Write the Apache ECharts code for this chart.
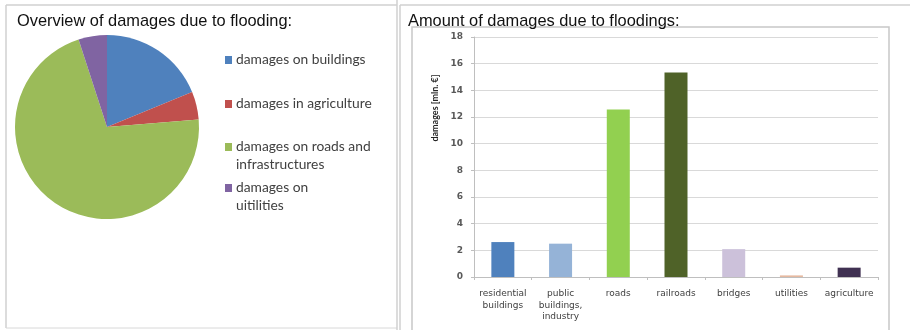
<!DOCTYPE html>
<html><head><meta charset="utf-8">
<script src="https://cdn.jsdelivr.net/npm/echarts@6/dist/echarts.min.js"></script>
<style>html,body{margin:0;padding:0;background:#fff}#c{width:910px;height:330px}</style>
</head><body><div id="c"></div>
<script>
// Pie data (shares, %)
const pieNames = ['damages on buildings', 'damages in agriculture', 'damages on roads and\ninfrastructures', 'damages on\nuitilities'];
const pieValues = [18.8, 4.9, 71.3, 5.0];
const pieColors = ['#4f81bd', '#c0504d', '#9bbb59', '#8064a2'];

// Bar data (mln. €)
const barCategories = ['residential\nbuildings', 'public\nbuildings,\nindustry', 'roads', 'railroads', 'bridges', 'utilities', 'agriculture'];
const barValues = [2.62, 2.5, 12.56, 15.33, 2.09, 0.12, 0.7];
const barColors = ['#4f81bd', '#95b3d7', '#92d050', '#4f6228', '#ccc1da', '#e6b9a0', '#403152'];
const yTicks = [0, 2, 4, 6, 8, 10, 12, 14, 16, 18];

const chart = echarts.init(document.getElementById('c'), null, {renderer: 'canvas'});
const legendTops = [51, 95, 120, 161];
const legends = pieNames.map((n, i) => {
  const multi = n.includes('\n');
  return {
    orient: 'vertical', left: 225, top: legendTops[i], data: [n], padding: 0,
    itemWidth: 7, itemHeight: 8, itemGap: 0, icon: 'rect',
    formatter: name => multi ? ' \n' + name : name,
    textStyle: {fontFamily: 'Lato', fontSize: 13.8, color: '#404040', lineHeight: 18, padding: [0, 0, 0, -1]},
    selectedMode: false
  };
});

chart.setOption({
  animation: false,
  title: [
    {text: 'Overview of damages due to flooding:', left: 12, top: 8, textStyle: {fontFamily: 'Liberation Sans', fontSize: 16.4, fontWeight: 'normal', color: '#111'}},
    {text: 'Amount of damages due to floodings:', left: 403, top: 8, textStyle: {fontFamily: 'Liberation Sans', fontSize: 16.4, fontWeight: 'normal', color: '#111'}}
  ],
  legend: legends,
  graphic: [
    {type: 'line', shape: {x1: 6, y1: 5, x2: 6, y2: 328}, style: {stroke: '#d0d0d0', lineWidth: 1.5}},
    {type: 'line', shape: {x1: 6, y1: 5, x2: 397, y2: 5}, style: {stroke: '#d0d0d0', lineWidth: 1.5}},
    {type: 'line', shape: {x1: 6, y1: 328, x2: 397, y2: 328}, style: {stroke: '#d8d8d8', lineWidth: 1}},
    {type: 'line', shape: {x1: 397, y1: 0, x2: 397, y2: 330}, style: {stroke: '#d0d0d0', lineWidth: 1.5}},
    {type: 'line', shape: {x1: 400, y1: 5, x2: 910, y2: 5}, style: {stroke: '#d0d0d0', lineWidth: 1.5}},
    {type: 'line', shape: {x1: 400, y1: 5, x2: 400, y2: 330}, style: {stroke: '#d0d0d0', lineWidth: 1.5}},
    {type: 'rect', shape: {x: 412, y: 27, width: 477, height: 310}, style: {fill: 'none', stroke: '#c8c8c8', lineWidth: 1.5}}
  ],
  grid: {left: 474, right: 32, top: 37, bottom: 53},
  xAxis: {
    type: 'category', data: barCategories,
    axisLine: {lineStyle: {color: '#bfbfbf'}},
    axisTick: {show: true, length: 3, lineStyle: {color: '#bfbfbf'}},
    axisLabel: {fontFamily: 'DejaVu Sans', fontSize: 9, color: '#404040', margin: 11, lineHeight: 11.5, interval: 0}
  },
  yAxis: {
    type: 'value', min: 0, max: 18, interval: 2,
    name: 'damages [mln. €]', nameLocation: 'middle', nameRotate: 90, nameGap: 34,
    nameTextStyle: {fontFamily: 'Lato', fontSize: 9, fontWeight: 'bold', color: '#262626', padding: [0, 0, 0, 98]},
    axisLine: {show: true, lineStyle: {color: '#bfbfbf'}},
    axisTick: {show: true, length: 3, lineStyle: {color: '#bfbfbf'}},
    splitLine: {lineStyle: {color: '#d9d9d9'}},
    axisLabel: {fontFamily: 'DejaVu Sans', fontSize: 9, fontWeight: 'bold', color: '#595959', margin: 11,
      formatter: v => yTicks.includes(v) ? String(v) : ''}
  },
  series: [
    {
      type: 'pie', center: [107, 127], radius: 92, startAngle: 90, clockwise: true,
      label: {show: false}, labelLine: {show: false}, silent: true,
      data: pieNames.map((n, i) => ({name: n, value: pieValues[i], itemStyle: {color: pieColors[i]}}))
    },
    {
      type: 'bar', barWidth: 23,
      data: barValues.map((v, i) => ({value: v, itemStyle: {color: barColors[i]}}))
    }
  ]
});
</script></body></html>
